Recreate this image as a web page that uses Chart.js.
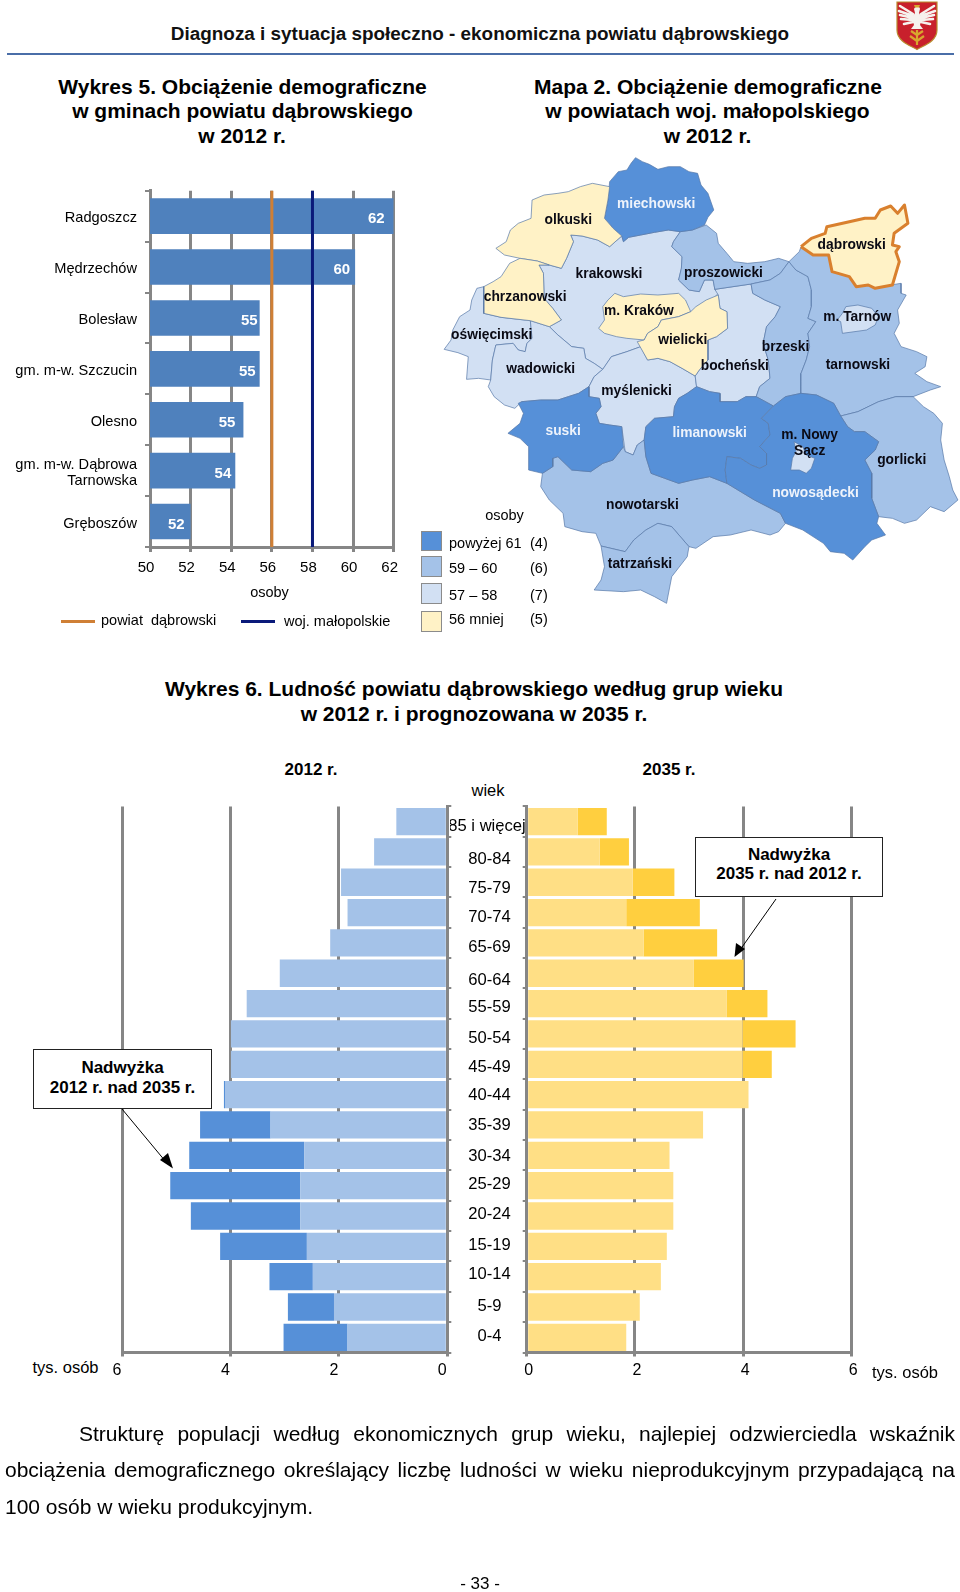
<!DOCTYPE html>
<html lang="pl"><head><meta charset="utf-8">
<script src="https://cdn.jsdelivr.net/npm/chart.js@4"></script>
<style>
html,body{margin:0;padding:0;background:#fff}
body{position:relative;width:960px;height:1592px;overflow:hidden;font-family:"Liberation Sans",Arial,sans-serif;color:#000}
canvas{position:absolute}
.t{position:absolute;white-space:pre;transform:translate(-50%,-50%);line-height:1}
.l{position:absolute;white-space:pre;transform:translateY(-50%);line-height:1;font-size:14.5px}
.h{font-weight:bold;font-size:21px}
.box{position:absolute;background:#fff;border:1px solid #222;box-sizing:border-box;text-align:center;font-weight:bold;font-size:17px;line-height:19.5px}
.sw{position:absolute;box-sizing:border-box;border:1px solid #8b8b8b;width:21px;height:20.5px}
.p{position:absolute;left:5px;width:950px;font-size:21px;line-height:1;white-space:normal}
.j{text-align:justify;text-align-last:justify}
</style></head><body>

<div class="t" style="left:480px;top:33.5px;font-weight:bold;font-size:18.9px;color:#111">Diagnoza i sytuacja społeczno - ekonomiczna powiatu dąbrowskiego</div>
<div style="position:absolute;left:7px;top:53px;width:947px;height:2px;background:#4a6ea8"></div>
<svg style="position:absolute;left:895px;top:0" width="44" height="52" viewBox="0 0 44 52">
<path d="M2 2H42V30C42 41 30 45 22 49.5C14 45 2 41 2 30Z" fill="#c8202c" stroke="#b98a2e" stroke-width="1.2"/>
<g stroke="#f6f2ee" stroke-width="2.6" stroke-linecap="round" fill="none">
<path d="M18 14L5 6M18 16L4 11M18 18L5 15M18 20L6 19M18 22L9 24M26 14L39 6M26 16L40 11M26 18L39 15M26 20L38 19M26 22L35 24"/>
</g>
<path d="M19 9c1-3 6-3 6 0l-1 4 3 5-2 7 3 4h-12l3-4-2-7 3-5z" fill="#f6f2ee"/>
<path d="M19 5h6l-1 2.5h-4z" fill="#d8a72e"/>
<path d="M22 45V30M22 41l-7-5M22 41l7-5M22 35l-6-4M22 35l6-4" stroke="#d8a72e" stroke-width="2.2" fill="none"/>
</svg>

<div class="t h" style="left:242.5px;top:86px">Wykres 5. Obciążenie demograficzne</div>
<div class="t h" style="left:242.5px;top:110px">w gminach powiatu dąbrowskiego</div>
<div class="t h" style="left:242px;top:135px">w 2012 r.</div>
<div class="t h" style="left:708px;top:86px">Mapa 2. Obciążenie demograficzne</div>
<div class="t h" style="left:707.5px;top:110px">w powiatach woj. małopolskiego</div>
<div class="t h" style="left:707.5px;top:135px">w 2012 r.</div>

<canvas id="bars" width="410" height="430" style="left:0;top:180px"></canvas>
<div class="t" style="left:269.5px;top:592px;font-size:14.5px">osoby</div>
<div style="position:absolute;left:60.5px;top:619.5px;width:34px;height:3px;background:#cf7f35"></div>
<div class="l" style="left:101px;top:620px">powiat  dąbrowski</div>
<div style="position:absolute;left:240.5px;top:619.5px;width:34px;height:3px;background:#0a1a7a"></div>
<div class="l" style="left:284px;top:621px">woj. małopolskie</div>

<canvas id="map" width="540" height="520" style="left:420px;top:130px"></canvas>
<div class="t" style="left:504.5px;top:515px;font-size:14.5px">osoby</div>
<div class="sw" style="left:421px;top:530.5px;background:#5690d8"></div>
<div class="sw" style="left:421px;top:556px;background:#a4c2e8"></div>
<div class="sw" style="left:421px;top:583px;background:#d2e0f3"></div>
<div class="sw" style="left:421px;top:611px;background:#fff2c6"></div>
<div class="l" style="left:449px;top:543px">powyżej 61</div><div class="l" style="left:530px;top:543px">(4)</div>
<div class="l" style="left:449px;top:568px">59 – 60</div><div class="l" style="left:530px;top:568px">(6)</div>
<div class="l" style="left:449px;top:595px">57 – 58</div><div class="l" style="left:530px;top:595px">(7)</div>
<div class="l" style="left:449px;top:619px">56 mniej</div><div class="l" style="left:530px;top:619px">(5)</div>

<div class="t h" style="left:474px;top:688px">Wykres 6. Ludność powiatu dąbrowskiego według grup wieku</div>
<div class="t h" style="left:474px;top:713px">w 2012 r. i prognozowana w 2035 r.</div>
<div class="t" style="left:311px;top:768.5px;font-weight:bold;font-size:17px">2012 r.</div>
<div class="t" style="left:669px;top:769px;font-weight:bold;font-size:17px">2035 r.</div>
<div class="t" style="left:488px;top:790px;font-size:16.5px">wiek</div>

<canvas id="left" width="360" height="600" style="left:100px;top:800px"></canvas>
<canvas id="right" width="450" height="600" style="left:450px;top:800px"></canvas>
<div class="l" style="left:32.5px;top:1366.5px;font-size:16.5px">tys. osób</div>
<div class="l" style="left:872px;top:1371.5px;font-size:16.5px">tys. osób</div>

<div class="box" style="left:33px;top:1049px;width:179px;height:60px;padding-top:8px">Nadwyżka<br>2012 r. nad 2035 r.</div>
<div class="box" style="left:695px;top:836.5px;width:188px;height:60px;padding-top:7px">Nadwyżka<br>2035 r. nad 2012 r.</div>
<svg style="position:absolute;left:0;top:0;pointer-events:none" width="960" height="1592">
<line x1="122" y1="1109" x2="166" y2="1162" stroke="#000" stroke-width="1"/>
<polygon points="173,1168.5 160,1160 168,1153" fill="#000"/>
<line x1="776" y1="899" x2="740" y2="950" stroke="#000" stroke-width="1"/>
<polygon points="734.5,957 736,943 745,949" fill="#000"/>
</svg>

<div class="p j" style="top:1423px;left:79px;width:876px">Strukturę populacji według ekonomicznych grup wieku, najlepiej odzwierciedla wskaźnik</div>
<div class="p j" style="top:1459px">obciążenia demograficznego określający liczbę ludności w wieku nieprodukcyjnym przypadającą na</div>
<div class="p" style="top:1496px">100 osób w wieku produkcyjnym.</div>
<div class="t" style="left:480px;top:1583px;font-size:17px">- 33 -</div>

<script>
// Wykres 5
const gminy = ["Radgoszcz","Mędrzechów","Bolesław","gm. m-w. Szczucin","Olesno",["gm. m-w. Dąbrowa","Tarnowska"],"Gręboszów"];
const obciazenie = [62.0,60.1,55.4,55.4,54.6,54.2,52.0];
const powiatDabrowski = 56;
const wojMalopolskie = 58;
const osTicks5 = [50,52,54,56,58,60,62];

// Wykres 6
const ages = ["85 i więcej","80-84","75-79","70-74","65-69","60-64","55-59","50-54","45-49","40-44","35-39","30-34","25-29","20-24","15-19","10-14","5-9","0-4"];
const pop2012 = [0.94,1.35,1.96,1.84,2.16,3.09,3.70,3.99,3.99,4.12,4.56,4.76,5.11,4.73,4.19,3.28,2.94,3.02];
const pop2035 = [1.48,1.89,2.73,3.20,3.52,4.01,4.45,4.97,4.53,4.10,3.26,2.64,2.71,2.71,2.59,2.48,2.09,1.84];

// Mapa 2 - contours, in map units
const krakowski=[[437,315],[470,318],[515,330],[550,350],[585,318],[590,335],[605,322],[640,315],[680,307],[720,300],[755,305],[735,335],[730,350],[760,380],[758,415],[750,450],[780,480],[810,485],[825,450],[850,450],[855,478],[865,490],[800,560],[700,600],[640,650],[600,665],[555,680],[530,718],[505,700],[480,685],[475,655],[440,650],[400,615],[375,590],[410,570],[385,535],[360,505],[358,430],[345,405],[375,405],[410,415],[425,385],[445,335],[437,315]];
const miechowski=[[612,100],[625,83],[645,95],[665,103],[690,118],[720,110],[755,110],[780,125],[805,130],[815,165],[835,190],[852,240],[835,262],[825,285],[790,300],[755,305],[720,300],[680,307],[640,315],[605,322],[590,335],[585,318],[560,295],[535,265],[545,210],[550,155],[575,125],[600,120],[612,100]];
const olkuski=[[550,170],[500,160],[465,170],[430,185],[400,190],[360,195],[325,210],[322,265],[285,280],[262,300],[250,335],[220,355],[245,375],[290,385],[340,393],[375,405],[410,415],[425,385],[445,335],[437,315],[470,318],[515,330],[550,350],[585,318],[560,295],[535,265],[545,210],[550,170]];
const chrzanowski=[[290,385],[260,400],[235,440],[212,455],[185,470],[185,550],[235,562],[320,572],[375,590],[410,570],[385,535],[360,505],[358,430],[345,405],[375,405],[340,393],[290,385]];
const mKrakow=[[565,490],[590,500],[640,492],[690,495],[750,490],[770,510],[785,545],[750,560],[700,570],[690,590],[660,610],[650,630],[600,625],[570,620],[535,610],[518,595],[535,570],[530,530],[545,510],[565,490]];
const wielicki=[[830,510],[865,495],[870,535],[890,545],[892,595],[860,620],[835,630],[835,690],[810,720],[798,738],[760,715],[725,695],[690,685],[660,690],[630,635],[650,630],[660,610],[690,590],[700,570],[750,560],[785,545],[800,530],[830,510]];
const oswiecimski=[[165,475],[185,470],[185,550],[235,562],[320,572],[325,625],[310,640],[305,665],[285,660],[270,640],[220,645],[210,690],[205,750],[170,745],[135,748],[140,680],[110,668],[70,658],[90,630],[95,600],[115,560],[145,540],[150,510],[165,475]];
const wadowicki=[[320,572],[375,590],[400,615],[440,650],[475,655],[480,685],[505,700],[530,718],[505,740],[490,770],[460,790],[430,800],[400,810],[350,810],[295,815],[275,835],[245,825],[215,800],[198,770],[205,750],[210,690],[220,645],[270,640],[285,660],[305,665],[310,640],[325,625],[320,572]];
const myslenicki=[[530,718],[555,680],[600,665],[640,650],[660,690],[690,685],[725,695],[760,715],[798,738],[802,770],[775,790],[750,805],[738,830],[735,860],[680,865],[655,890],[650,930],[630,945],[618,975],[595,965],[585,890],[550,885],[520,880],[510,850],[525,830],[520,805],[490,800],[490,770],[505,740],[530,718]];
const bochenski=[[855,478],[960,462],[965,490],[1000,510],[1045,530],[1030,560],[1005,590],[995,640],[1010,690],[1015,745],[985,770],[975,800],[945,800],[920,815],[870,815],[870,790],[840,785],[802,770],[798,738],[810,720],[835,690],[835,630],[860,620],[892,595],[890,545],[870,535],[865,495],[855,478]];
const proszowicki=[[830,285],[860,310],[865,340],[890,370],[910,395],[950,400],[1000,395],[1040,385],[1070,395],[1045,430],[1015,450],[960,462],[855,478],[850,450],[825,450],[810,485],[780,480],[750,450],[758,415],[760,380],[730,350],[735,335],[755,305],[790,300],[830,285]];
const brzeski=[[960,462],[1015,450],[1045,430],[1070,395],[1090,420],[1125,440],[1135,480],[1135,530],[1125,565],[1148,575],[1125,610],[1130,650],[1120,690],[1105,730],[1105,790],[1060,800],[1025,828],[975,800],[985,770],[1015,745],[1010,690],[995,640],[1005,590],[1030,560],[1045,530],[1000,510],[965,490],[960,462]];
const tarnowski=[[1070,395],[1100,365],[1105,350],[1140,375],[1185,375],[1195,425],[1245,440],[1265,470],[1300,465],[1320,475],[1365,465],[1395,460],[1395,490],[1410,495],[1385,540],[1390,580],[1375,610],[1395,650],[1440,665],[1470,680],[1465,710],[1435,730],[1470,755],[1510,770],[1480,780],[1430,800],[1380,800],[1330,815],[1270,845],[1220,858],[1200,820],[1150,795],[1105,790],[1105,730],[1120,690],[1130,650],[1125,610],[1148,575],[1125,565],[1135,530],[1135,480],[1125,440],[1090,420],[1070,395]];
const mTarnow=[[1235,530],[1270,525],[1310,535],[1330,560],[1320,585],[1295,600],[1225,610],[1220,575],[1210,570],[1225,550],[1235,530]];
const gorlicki=[[1220,858],[1270,845],[1330,815],[1380,800],[1430,800],[1460,830],[1490,850],[1515,880],[1510,930],[1520,990],[1535,1040],[1545,1080],[1560,1110],[1520,1145],[1480,1130],[1440,1170],[1405,1180],[1370,1165],[1330,1160],[1310,1105],[1310,1030],[1290,990],[1320,960],[1330,935],[1290,905],[1260,905],[1240,890],[1220,858]];
const nowosadecki=[[1025,828],[1060,800],[1105,790],[1150,795],[1200,820],[1220,858],[1240,890],[1260,905],[1290,905],[1330,935],[1320,960],[1290,990],[1310,1030],[1310,1105],[1330,1160],[1325,1180],[1350,1215],[1310,1230],[1290,1250],[1255,1290],[1230,1270],[1190,1265],[1170,1240],[1110,1200],[1060,1180],[1045,1150],[970,1110],[890,1060],[885,1020],[890,980],[930,985],[960,1005],[985,1015],[1005,1005],[1005,970],[985,950],[1015,915],[1010,880],[990,865],[1025,828]];
const mNowySacz=[[1085,935],[1110,950],[1120,975],[1145,985],[1135,1015],[1120,1030],[1100,1020],[1075,1020],[1080,985],[1090,965],[1085,935]];
const limanowski=[[802,770],[840,785],[870,790],[870,815],[920,815],[945,800],[975,800],[1025,828],[990,865],[1010,880],[1015,915],[985,950],[1005,970],[1005,1005],[985,1015],[960,1005],[930,985],[890,980],[885,1020],[890,1060],[840,1040],[790,1050],[750,1060],[710,1045],[670,1030],[655,980],[650,930],[655,890],[680,865],[735,860],[738,830],[750,805],[775,790],[802,770]];
const suski=[[490,770],[490,800],[520,805],[525,830],[510,850],[520,880],[550,885],[585,890],[590,950],[560,990],[530,1000],[495,1025],[440,1020],[400,980],[385,985],[385,1010],[355,1030],[315,1020],[315,950],[290,925],[255,910],[290,880],[300,850],[285,820],[295,815],[350,810],[400,810],[430,800],[460,790],[490,770]];
const nowotarski=[[355,1030],[385,1010],[385,985],[400,980],[440,1020],[495,1025],[530,1000],[560,990],[590,950],[595,965],[618,975],[630,945],[650,930],[655,980],[670,1030],[710,1045],[750,1060],[790,1050],[840,1040],[890,1060],[970,1110],[1045,1150],[1060,1180],[1040,1205],[1015,1215],[960,1200],[900,1215],[850,1220],[800,1255],[780,1250],[730,1190],[690,1180],[655,1200],[620,1230],[595,1265],[525,1248],[510,1210],[470,1205],[420,1190],[415,1150],[375,1110],[350,1070],[355,1030]];
const tatrzanski=[[525,1248],[595,1265],[620,1230],[655,1200],[690,1180],[730,1190],[780,1250],[775,1280],[745,1320],[730,1340],[715,1420],[680,1400],[640,1380],[590,1385],[505,1380],[525,1350],[535,1310],[525,1248]];
const dabrowski=[[1105,350],[1135,325],[1175,310],[1180,290],[1245,275],[1290,265],[1320,265],[1335,240],[1365,228],[1385,250],[1405,225],[1415,280],[1375,310],[1370,345],[1390,350],[1380,365],[1390,395],[1370,465],[1320,475],[1300,465],[1265,470],[1245,440],[1195,425],[1185,375],[1140,375],[1105,350]];

const FONT='"Liberation Sans", Arial, sans-serif';
const GRAY='#868686';
Chart.defaults.font.family=FONT;
Chart.defaults.color='#000';
Chart.defaults.animation=false;
Chart.defaults.responsive=false;
Chart.defaults.devicePixelRatio=1;
Chart.defaults.plugins.legend.display=false;
Chart.defaults.plugins.tooltip.enabled=false;

// ---- Wykres 5
const labelInset=[9,5,2,4,8,4,6];
new Chart(document.getElementById('bars'),{
  type:'bar',
  data:{labels:gminy,datasets:[
    {data:obciazenie,backgroundColor:'#4f81bd',barPercentage:0.7,categoryPercentage:1}
  ]},
  options:{indexAxis:'y',layout:{padding:{left:0,right:16.3,top:10.7,bottom:0}},
    scales:{
      x:{type:'linear',min:50,max:62,afterBuildTicks:s=>{s.ticks=osTicks5.map(v=>({value:v}));},
        afterFit:s=>{s.height=63;},
        border:{color:GRAY,width:3},
        grid:{color:GRAY,lineWidth:3,tickLength:5},
        ticks:{font:{size:15},padding:7,labelOffset:-4,maxRotation:0,autoSkip:false}},
      y:{type:'category',afterFit:s=>{s.width=150;s.paddingTop=0;s.paddingBottom=0;},
        border:{color:GRAY,width:3},
        grid:{offset:true,drawOnChartArea:false,color:GRAY,lineWidth:2,tickLength:5},
        ticks:{font:{size:14.6,lineHeight:1.1},padding:8,labelOffset:2,autoSkip:false}}
    }},
  plugins:[{id:'vals',afterDatasetsDraw(c){
    const ctx=c.ctx,m=c.getDatasetMeta(0),a=c.chartArea,sx=c.scales.x;
    ctx.save();
    [[powiatDabrowski,'#cf7f35'],[wojMalopolskie,'#0a1a7a']].forEach(([v,col])=>{
      ctx.beginPath();ctx.strokeStyle=col;ctx.lineWidth=3;ctx.moveTo(sx.getPixelForValue(v),a.top);ctx.lineTo(sx.getPixelForValue(v),a.bottom);ctx.stroke();
    });
    ctx.font='bold 15px '+FONT;ctx.fillStyle='#fff';ctx.textAlign='right';ctx.textBaseline='middle';
    m.data.forEach((b,i)=>ctx.fillText(String(Math.round(obciazenie[i])),b.x-labelInset[i],b.y+3));
    ctx.restore();
  }}]
});

// ---- Mapa 2
const DARK='#5690d8',MID='#a4c2e8',LIGHT='#d2e0f3',CREAM='#fff2c6';
const counties=[
 [krakowski,LIGHT],[oswiecimski,LIGHT],[wadowicki,LIGHT],[myslenicki,LIGHT],[bochenski,LIGHT],
 [proszowicki,MID],[brzeski,MID],[tarnowski,MID],[mTarnow,LIGHT],[gorlicki,MID],[nowotarski,MID],[tatrzanski,MID],
 [miechowski,DARK],[limanowski,DARK],[suski,DARK],[nowosadecki,DARK],[mNowySacz,LIGHT],
 [olkuski,CREAM],[chrzanowski,CREAM],[mKrakow,CREAM],[wielicki,CREAM],[dabrowski,CREAM]];
const n=counties.length;
const mapNames=[['olkuski',430,270],['miechowski',685,223,1],['krakowski',548,433],['proszowicki',880,431],['dąbrowski',1252,346],['chrzanowski',305,503],['m. Kraków',635,545],['oświęcimski',208,616],['wielicki',762,631],['m. Tarnów',1268,561],['brzeski',1060,653],['bocheński',913,709],['tarnowski',1270,705],['wadowicki',350,719],['myślenicki',628,783],['suski',415,903,1],['limanowski',840,911,1],['m. Nowy',1130,917],['Sącz',1130,965],['gorlicki',1397,991],['nowosądecki',1147,1091,1],['nowotarski',645,1125],['tatrzański',638,1303]];
new Chart(document.getElementById('map'),{
  type:'scatter',
  data:{datasets:counties.map(([pts,col],i)=>({
    data:pts.map(([x,y])=>({x,y})),showLine:true,pointRadius:0,tension:0,clip:false,order:n-i,
    fillCol:col,borderColor:pts===dabrowski?'#d9802e':'#5878a8',borderWidth:pts===dabrowski?3:0.7,borderJoinStyle:'round'}))},
  options:{layout:{padding:0},scales:{x:{type:'linear',min:0,max:1566,display:false},y:{type:'linear',min:0,max:1560,reverse:true,display:false}}},
  plugins:[{id:'poly',beforeDatasetDraw(c,a){
    const ctx=c.ctx,pts=a.meta.data;
    ctx.save();ctx.beginPath();pts.forEach((p,i)=>i?ctx.lineTo(p.x,p.y):ctx.moveTo(p.x,p.y));ctx.closePath();
    ctx.fillStyle=c.data.datasets[a.index].fillCol;ctx.fill();ctx.restore();
  },afterDatasetsDraw(c){
    const ctx=c.ctx;ctx.save();ctx.font='bold 13.8px '+FONT;ctx.textAlign='center';ctx.textBaseline='middle';
    mapNames.forEach(([s,x,y,w])=>{ctx.fillStyle=w?'#eef3fb':'#0a0a14';ctx.fillText(s,c.scales.x.getPixelForValue(x),c.scales.y.getPixelForValue(y));});
    ctx.restore();
  }}]
});

// ---- Wykres 6
const commonPart=pop2012.map((v,i)=>Math.min(v,pop2035[i]));
const surplus2012=pop2012.map((v,i)=>Math.max(v-pop2035[i],0));
const surplus2035=pop2035.map((v,i)=>Math.max(v-pop2012[i],0));
function pyr(id,light,dark,surplus,reverse,pad,yw,lo,extra){
  return new Chart(document.getElementById(id),{
    type:'bar',
    data:{labels:ages,datasets:[
      {data:commonPart,backgroundColor:light,barPercentage:0.9,categoryPercentage:1},
      {data:surplus,backgroundColor:dark,barPercentage:0.9,categoryPercentage:1}]},
    options:{indexAxis:'y',layout:{padding:pad},
      scales:{
        x:{type:'linear',stacked:true,min:0,max:6,reverse,afterFit:s=>{s.height=47.5;},
          border:{color:GRAY,width:3},grid:{color:GRAY,lineWidth:3,tickLength:4},
          ticks:{stepSize:2,font:{size:16},padding:4,labelOffset:lo,maxRotation:0}},
        y:{type:'category',stacked:true,position:reverse?'right':'left',afterFit:s=>{s.width=yw;},
          border:{color:GRAY,width:2},grid:{offset:true,drawOnChartArea:false,color:GRAY,lineWidth:2,tickLength:4},
          ticks:{display:false}}
      }},
    plugins:extra?[extra]:[]
  });
}
pyr('left','#a4c2e8','#5690d8',surplus2012,true,{left:22,right:0,top:6.4,bottom:0},12.7,-5);
const ageNudge=[5,8,6,5,4,7,4,4,3,1,0,1,-1,-2,-1,-2,-1,-1];
pyr('right','#ffdf85','#ffcf3f',surplus2035,false,{left:0,right:48.7,top:6.4,bottom:0},76.7,2,{id:'ages',afterDraw(c){
  const ctx=c.ctx;ctx.save();ctx.font='16.6px '+FONT;ctx.fillStyle='#000';ctx.textAlign='center';ctx.textBaseline='middle';
  ages.forEach((s,i)=>ctx.fillText(s,i===0?37:39.5,c.scales.y.getPixelForValue(i)+ageNudge[i]));
  ctx.restore();
}});
</script>
</body></html>
